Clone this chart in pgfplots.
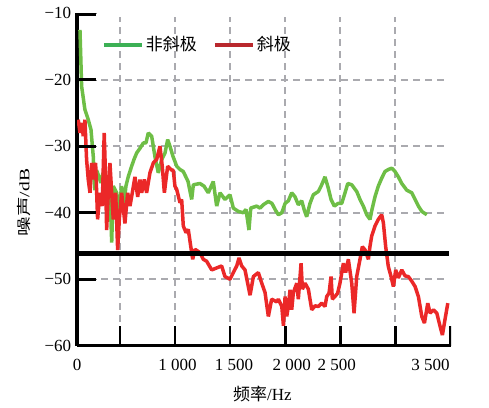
\documentclass[border=0pt]{standalone}
\usepackage{fontspec}
\setmainfont{Liberation Serif}
\newfontfamily\cjk{Noto Sans CJK SC}
\usepackage{pgfplots}
\pgfplotsset{compat=1.18}
\definecolor{plotgreen}{RGB}{110,190,70}
\definecolor{plotred}{RGB}{235,40,40}
\definecolor{leggreen}{RGB}{60,176,85}
\definecolor{legred}{RGB}{185,40,45}
\definecolor{gridgray}{RGB}{170,170,175}
\begin{document}
\fontsize{17}{20}\selectfont
\begin{tikzpicture}
\useasboundingbox (0,0) rectangle (489pt,407pt);
\begin{axis}[
  at={(77pt,61.3pt)}, anchor=south west,
  scale only axis, width=374pt, height=332.4pt,
  xmin=110, xmax=3505, ymin=-60, ymax=-10,
  axis x line=bottom, axis y line=left,
  axis line style={-, line width=3.5pt},
  tick align=inside,
  xtick={110,500,1000,1500,2000,2500,3000,3500},
  xticklabels={0,,\hspace*{4.8pt}1 000,\hspace*{7.8pt}1 500,\hspace*{13pt}2 000,2 500\hspace*{7pt},,3 500\hspace*{40pt}},
  ytick={-60,-50,-40,-30,-20,-10},
  yticklabels={−60,−50,−40,−30,−20,−10},
  major tick length=20pt,
  tick label style={font=\fontsize{17}{20}\selectfont},
  xticklabel style={yshift=-8pt},
  xlabel={{\cjk 频率}/Hz},
  ylabel={{\cjk 噪声}/dB},
  label style={font=\fontsize{17}{20}\selectfont},
  xlabel style={at={(axis description cs:0.496,-0.145)}, anchor=center},
  ylabel style={at={(axis description cs:-0.1417,0.431)}, anchor=center, xscale=1.15, yscale=0.85},
  legend style={at={(axis description cs:0.058,0.9046)}, anchor=west, draw=none, fill=none,
    font=\cjk\fontsize{17}{20}\selectfont,
    /tikz/every even column/.append style={column sep=14pt}},
  legend columns=2,
  legend image code/.code={\draw[line width=4pt] (0pt,0pt) -- (38pt,0pt);},
  grd/.style={gridgray, line width=2.2pt, dash pattern=on 7pt off 5pt, forget plot},
  tk/.style={black, line width=2.6pt, forget plot},
]
\addplot[grd] coordinates {(500,-60) (500,-10.6)};
\addplot[grd] coordinates {(1000,-60) (1000,-10.6)};
\addplot[grd] coordinates {(1500,-60) (1500,-10.6)};
\addplot[grd] coordinates {(2000,-60) (2000,-10.6)};
\addplot[grd] coordinates {(2500,-60) (2500,-10.6)};
\addplot[grd] coordinates {(3000,-60) (3000,-10.6)};
\addplot[grd] coordinates {(110,-20) (3451,-20)};
\addplot[grd] coordinates {(110,-30) (3451,-30)};
\addplot[grd] coordinates {(110,-40) (3451,-40)};
\addplot[grd] coordinates {(110,-50) (3451,-50)};
\addplot[plotgreen, line width=3.5pt, line join=bevel, forget plot] coordinates {
(137,-12.5) (152,-21) (182,-24.5) (212,-26) (237,-27.5) (258,-31.6) (267,-35.5)
(273,-36.6) (288,-33.6) (309,-34.6) (327,-35.5) (346,-34) (364,-37) (391,-34.6)
(418,-41) (425,-44.5) (439,-36) (470,-37) (482,-41) (515,-36) (536,-39) (554,-36)
(575,-34.6) (606,-33) (627,-32) (652,-31) (682,-30.3) (712,-29.5) (736,-29.5)
(757,-28) (788,-28.5) (818,-31.6) (848,-34) (879,-32) (909,-31) (933,-29) (954,-30)
(981,-31.5) (1015,-33) (1045,-33.5) (1075,-33.8) (1118,-35.3) (1151,-38) (1166,-35.8)
(1226,-35.6) (1263,-36) (1302,-37) (1347,-35.3) (1378,-39) (1408,-37) (1453,-38)
(1499,-37.3) (1529,-39.3) (1574,-39.8) (1620,-40) (1644,-39.5) (1671,-42.6) (1687,-39.3)
(1741,-39) (1771,-39.3) (1801,-38.8) (1847,-38.3) (1880,-38.6) (1911,-39.6) (1938,-40.3)
(1969,-40) (1999,-38.6) (2029,-38.2) (2059,-37) (2089,-37.6) (2119,-38.8) (2150,-38.2)
(2173,-39.6) (2195,-40.6) (2225,-38.6) (2255,-37.3) (2301,-36.8) (2331,-35.8) (2361,-34.6)
(2391,-36.3) (2416,-38) (2446,-39) (2479,-38.6) (2513,-38.6) (2543,-37) (2568,-35.6)
(2604,-35.8) (2649,-36.8) (2679,-38) (2709,-39) (2740,-40.3) (2770,-41) (2788,-39.5)
(2815,-37.6) (2845,-36) (2876,-34.8) (2906,-33.8) (2936,-33.5) (2967,-33.3) (2997,-33.8)
(3027,-34.6) (3058,-35.6) (3103,-36.6) (3149,-37) (3179,-38) (3209,-39) (3240,-39.8)
(3285,-40.3)
};
\addplot[plotred, line width=3.5pt, line join=bevel, forget plot] coordinates {
(121,-26) (137,-28) (152,-26.5) (167,-28.5) (182,-26) (197,-32) (212,-35) (228,-37)
(243,-32.5) (258,-35) (279,-32.5) (297,-41) (318,-37) (339,-39) (357,-28) (370,-35)
(379,-42.6) (394,-37) (409,-32.5) (425,-37) (439,-41) (461,-37) (479,-45.6) (494,-41)
(515,-37) (545,-41.6) (570,-37) (591,-39) (612,-37) (636,-34.6) (661,-37.6) (682,-35)
(697,-37) (721,-35) (742,-37) (772,-34) (803,-32.5) (833,-32) (863,-30) (884,-33)
(903,-37) (933,-33) (970,-33.6) (984,-33.6) (999,-36) (1015,-36.5) (1045,-38.5)
(1060,-38) (1075,-42) (1100,-43) (1120,-42.5) (1142,-45) (1160,-47) (1181,-45.5)
(1226,-46) (1256,-47) (1287,-47.3) (1333,-48.6) (1378,-48.3) (1423,-48) (1453,-49.6)
(1499,-50) (1529,-49) (1560,-48) (1581,-46.8) (1605,-48) (1635,-48.6) (1681,-52.4)
(1711,-49.6) (1756,-49) (1787,-50.6) (1817,-52) (1847,-55.6) (1877,-53) (1923,-53.4)
(1938,-53) (1969,-54.1) (1984,-57) (1999,-52.6) (2014,-55.6) (2029,-54) (2044,-51.6)
(2059,-54.6) (2074,-52) (2105,-50.6) (2119,-53) (2144,-47.6) (2156,-51.5) (2180,-50.6)
(2210,-51.5) (2241,-54.6) (2271,-54) (2301,-54.1) (2331,-53.6) (2361,-54.1) (2377,-52.6)
(2398,-52.1) (2416,-49.6) (2428,-53) (2452,-52.6) (2476,-52.1) (2497,-50.6) (2528,-47.6)
(2549,-49) (2573,-47) (2604,-50.6) (2625,-55.1) (2649,-49.6) (2679,-47) (2700,-45.1)
(2725,-45.6) (2755,-47) (2770,-45) (2785,-43.5) (2815,-42) (2845,-41) (2876,-40.3)
(2891,-41.5) (2912,-45.1) (2936,-48.1) (2961,-49.6) (2982,-51.1) (3003,-48.6) (3027,-49.8)
(3058,-48.6) (3088,-49.5) (3118,-49.6) (3149,-50.3) (3179,-51.1) (3209,-52.6) (3240,-55.6)
(3264,-56.6) (3294,-53.6) (3315,-55.1) (3346,-54.6) (3376,-55.1) (3406,-57.1) (3427,-58.4)
(3451,-56) (3476,-53.6)
};
\addplot[black, line width=5pt, forget plot] coordinates {(110,-46.2) (3488,-46.2)};
\addplot[tk] coordinates {(500,-60) (500,-57)};
\addplot[tk] coordinates {(1000,-60) (1000,-57)};
\addplot[tk] coordinates {(1500,-60) (1500,-57)};
\addplot[tk] coordinates {(2000,-60) (2000,-57)};
\addplot[tk] coordinates {(2500,-60) (2500,-57)};
\addplot[tk] coordinates {(3000,-60) (3000,-57)};
\addplot[tk] coordinates {(3498,-60) (3498,-57)};
\addplot[tk] coordinates {(110,-10.2) (283,-10.2)};
\addplot[tk] coordinates {(110,-20) (283,-20)};
\addplot[tk] coordinates {(110,-30) (283,-30)};
\addplot[tk] coordinates {(110,-40) (283,-40)};
\addplot[tk] coordinates {(110,-50) (283,-50)};
\addlegendimage{leggreen}
\addlegendentry{非斜极}
\addlegendimage{legred}
\addlegendentry{斜极}
\end{axis}
\end{tikzpicture}
\end{document}
